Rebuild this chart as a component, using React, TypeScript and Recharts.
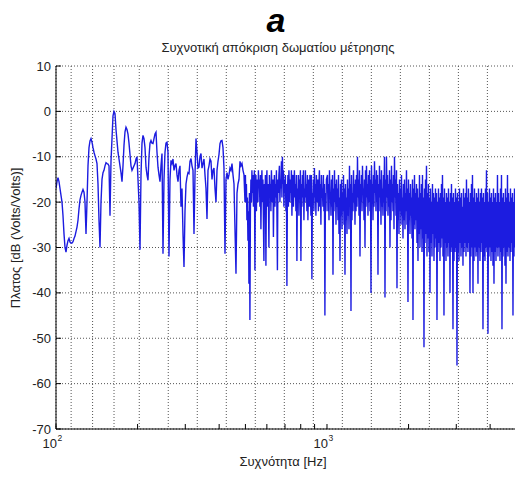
import React from 'react';
import { LineChart, Line, XAxis, YAxis, CartesianGrid } from 'recharts';

// Magnitude (dB), log-spaced grid from 100 Hz, 271 samples per decade (to ~499 Hz)
const magLow: number[] = [
  -17, -15.5, -14.6, -15.5, -17, -18.5, -20, -23, -27, -30,
  -31, -29.5, -28.5, -28, -28.8, -29, -29, -28.7, -28, -27.5,
  -26.5, -25.5, -24, -21.5, -19.5, -18.5, -17.8, -17.2, -17.8, -20,
  -27, -20, -12, -8, -6.5, -6, -6.8, -8, -9, -9.8,
  -10.5, -11.5, -16, -24, -30, -20, -15, -13.5, -13, -12,
  -11.3, -11.5, -11.6, -12, -23, -11, -6, -1, 0, -0.5,
  -4, -6.5, -9, -10.5, -12, -13.5, -15.5, -12, -7.5, -4.5,
  -3.5, -4, -5, -7, -9.5, -12, -13, -12.5, -12, -11.5,
  -10.5, -10, -15, -20, -30.5, -14, -7, -5.3, -6, -8,
  -12.3, -14, -15.2, -10, -7, -6.4, -7, -7.1, -6, -5,
  -4.6, -9, -12.3, -14, -15.5, -12, -9.3, -31.4, -15, -9,
  -7, -6.8, -9, -32, -15, -10.8, -11.5, -10.5, -13, -12,
  -11.5, -14, -15.5, -13, -12, -21, -17, -27, -34.3, -22,
  -16, -14.5, -13.5, -13.7, -11, -10.4, -12, -13, -27, -14,
  -6, -9, -12.5, -12.3, -10, -9.3, -12.5, -11.5, -10.5, -14,
  -17, -23.7, -13, -12, -10.5, -11, -15, -13, -12.5, -17,
  -20, -13, -11, -9.5, -7.1, -6.5, -6.4, -8, -12.5, -31.4,
  -15, -13.5, -15, -14, -12.5, -13, -11.5, -14, -16, -26,
  -35.8, -18, -16, -15, -11, -12, -11.5, -13, -14, -20,
];

// Magnitude (dB), log-spaced grid from 500 Hz, 542 samples per decade (to ~996 Hz)
const magMid: number[] = [
  -14, -20, -16, -24, -19, -28.5, -22, -38, -18, -46,
  -22, -15, -20, -13, -18, -14, -21, -16, -13, -35,
  -16, -14, -22, -15, -18, -20, -13, -17, -15, -21,
  -14, -26, -17, -13, -20, -15, -24, -33, -16, -19,
  -14, -34, -17, -13, -21, -16, -19, -30, -14, -18,
  -16, -22, -13, -17, -20, -15, -27.7, -18, -14, -21,
  -16, -19, -13, -22, -35, -15, -18, -14, -12, -20,
  -15, -17, -11, -19, -10, -16, -13, -21, -15, -18,
  -14, -22, -16, -38.5, -19, -14, -21, -13, -17, -20,
  -15, -18, -13, -23, -16, -14, -21, -17, -13, -19,
  -16, -22, -14, -33, -17, -20, -14, -23, -15, -18,
  -13, -33, -16, -21, -14, -19, -13, -24, -17, -20,
  -13, -19, -16, -22, -14, -24, -18, -15, -21, -14,
  -17, -23, -14, -37, -18, -20, -15, -22, -12.5, -19,
  -16, -23, -14, -18, -20, -15, -22, -16, -13, -21,
  -16, -25, -14, -19, -17, -21, -14, -22, -16, -45,
  -18, -22, -15,
];

// Magnitude (dB), log-spaced grid above 1 kHz, 542 samples per decade
const magHigh: number[] = [
  -14, -22, -16, -24, -13, -19, -18, -23, -15, -21, -14, -36, -17, -22, -13, -20, -16, -25, -15, -21,
  -17, -24, -14, -27, -19, -33, -16, -23, -15, -26, -18, -22, -14, -25, -17, -36, -16, -24, -19, -27,
  -15, -23, -17, -26, -12, -21, -16, -44, -14, -24, -18, -22, -13, -20, -16, -25, -15, -22, -14, -21,
  -10, -19, -15, -23, -13, -32, -16, -20, -14, -22, -12, -18, -17, -24, -15, -30, -13, -21, -12, -19,
  -16, -23, -14, -20, -13, -22, -15, -40, -12, -19, -16, -24, -14, -21, -11, -18, -15, -22, -13, -20,
  -14, -36, -16, -22, -12, -19, -15, -25, -13, -21, -17, -23, -14, -20, -10, -41, -15, -22, -10, -19,
  -14, -23, -16, -21, -13, -30, -15, -24, -12, -20, -16, -22, -14, -26, -10, -19, -15, -23, -13, -39,
  -16, -24, -18, -27, -15, -22, -17, -25, -14, -23, -19, -28, -16, -24, -15, -26, -18, -22, -13, -25,
  -17, -42, -15, -24, -18, -27, -16, -23, -19, -28, -15, -46, -17, -25, -14, -26, -18, -24, -16, -29,
  -17, -33, -19, -27, -14, -30, -18, -26, -16, -31, -14, -28, -19, -52, -17, -29, -15, -27, -12, -32,
  -18, -28, -16, -31, -19, -40, -17, -29, -20, -32, -16, -27, -18, -33, -19, -30, -17, -28, -18, -46,
  -20, -31, -17, -29, -19, -33, -18, -30, -16, -28, -14, -32, -19, -45, -17, -29, -20, -33, -18, -30,
  -19, -32, -17, -29, -20, -40, -18, -31, -16, -30, -19, -48, -18, -33, -20, -31, -17, -30, -19, -56,
  -18, -31, -20, -33, -17, -29, -19, -32, -18, -30, -21, -34, -17, -31, -19, -29, -18, -32, -15, -30,
  -19, -31, -17, -29, -20, -40, -18, -32, -16, -30, -14, -40, -19, -33, -17, -30, -20, -32, -18, -31,
  -19, -38, -17, -30, -20, -33, -18, -31, -17, -29, -19, -48, -18, -32, -20, -33, -17, -30, -13, -31,
  -18, -49, -20, -32, -17, -30, -19, -33, -18, -31, -20, -34, -17, -38, -19, -31, -18, -33, -20, -30,
  -14, -32, -18, -30, -20, -33, -17, -31, -14, -48, -19, -32, -18, -30, -20, -34, -17, -38, -19, -31,
  -14, -32, -18, -30, -20, -33, -17, -31, -19, -29, -18, -45, -20, -32, -17, -30, -19, -33,
];

const lowStart = 100;
const lowPerDecade = 271;
const midStart = 500;
const midPerDecade = 542;
const highStart = 1000;
const highPerDecade = 542;

const yTicks = [10, 0, -10, -20, -30, -40, -50, -60, -70];
const xTicks = [100, 200, 300, 400, 500, 600, 700, 800, 900, 1000, 2000, 3000, 4000, 5000];
const xExponents: Record<number, string> = { 100: '2', 1000: '3' };

const titleText = 'a';
const subtitleText = 'Συχνοτική απόκριση δωματίου μέτρησης';
const xLabelText = 'Συχνότητα [Hz]';
const yLabelText = 'Πλατος [dB (Volts/Volts)]';

const data = [
  ...magLow.map((db, i) => ({ f: lowStart * Math.pow(10, i / lowPerDecade), db })),
  ...magMid.map((db, j) => ({ f: midStart * Math.pow(10, j / midPerDecade), db })),
  ...magHigh.map((db, j) => ({ f: highStart * Math.pow(10, (j + 1) / highPerDecade), db })),
];

const FONT = '"Liberation Sans", Arial, Helvetica, sans-serif';

const YTick = (props: any) => {
  const { x, y, payload } = props;
  return (
    <g>
      <text x={x} y={y} dy={4.5} textAnchor="end" fontSize={13} fontFamily={FONT} fill="#222">
        {payload.value}
      </text>
      <line x1={x + 5} x2={x + 10} y1={y} y2={y} stroke="#000" strokeWidth={1} />
    </g>
  );
};

const XTickBottom = (props: any) => {
  const { x, y, payload } = props;
  const exp = xExponents[payload.value];
  return (
    <g>
      <line x1={x} x2={x} y1={y} y2={y - 5} stroke="#000" strokeWidth={1} />
      {exp ? (
        <g>
          <text x={x + 1} y={y + 19} textAnchor="end" fontSize={13} fontFamily={FONT} fill="#222">10</text>
          <text x={x + 1.5} y={y + 12} textAnchor="start" fontSize={8.5} fontFamily={FONT} fill="#222">{exp}</text>
        </g>
      ) : null}
    </g>
  );
};

const XTickTop = (props: any) => {
  const { x, y } = props;
  return <line x1={x} x2={x} y1={y} y2={y + 5} stroke="#000" strokeWidth={1} />;
};

export default function App() {
  return (
    <div style={{ position: 'absolute', left: 0, top: 0, width: 515, height: 477, overflow: 'hidden', background: '#fff' }}>
      <LineChart width={530} height={477} data={data} margin={{ top: 66, right: 13.6, bottom: 18, left: 0 }}>
        <CartesianGrid stroke="#555" strokeDasharray="1 2" horizontal vertical />
        <XAxis
          xAxisId="bottom"
          dataKey="f"
          type="number"
          scale="log"
          domain={[100, 5000]}
          allowDataOverflow
          ticks={xTicks}
          interval={0}
          height={30}
          tickSize={0}
          tickMargin={0}
          tick={<XTickBottom />}
          axisLine={{ stroke: '#000', strokeWidth: 1 }}
          tickLine={false}
        />
        <XAxis
          xAxisId="top"
          orientation="top"
          dataKey="f"
          type="number"
          scale="log"
          domain={[100, 5000]}
          allowDataOverflow
          ticks={xTicks}
          interval={0}
          height={0}
          tickSize={0}
          tickMargin={0}
          tick={<XTickTop />}
          axisLine={{ stroke: '#000', strokeWidth: 1 }}
          tickLine={false}
        />
        <YAxis
          dataKey="db"
          type="number"
          domain={[-70, 10]}
          allowDataOverflow
          ticks={yTicks}
          interval={0}
          width={56}
          tickSize={0}
          tickMargin={5}
          tick={<YTick />}
          axisLine={{ stroke: '#000', strokeWidth: 1 }}
          tickLine={false}
        />
        <Line
          xAxisId="bottom"
          type="linear"
          dataKey="db"
          stroke="#1c1ce0"
          strokeWidth={1.4}
          dot={false}
          isAnimationActive={false}
        />
      </LineChart>
      <svg width={515} height={477} style={{ position: 'absolute', left: 0, top: 0, pointerEvents: 'none' }}>
        <text x={276} y={32} textAnchor="middle" fontSize={34} fontWeight="bold" fontStyle="italic" fontFamily={FONT} fill="#000">
          {titleText}
        </text>
        <text x={278} y={52} textAnchor="middle" fontSize={13} fontFamily={FONT} fill="#222">
          {subtitleText}
        </text>
        <text x={283} y={466} textAnchor="middle" fontSize={13} fontFamily={FONT} fill="#222">
          {xLabelText}
        </text>
        <text
          x={20}
          y={238}
          textAnchor="middle"
          fontSize={13}
          fontFamily={FONT}
          fill="#222"
          transform="rotate(-90 20 238)"
        >
          {yLabelText}
        </text>
      </svg>
    </div>
  );
}
